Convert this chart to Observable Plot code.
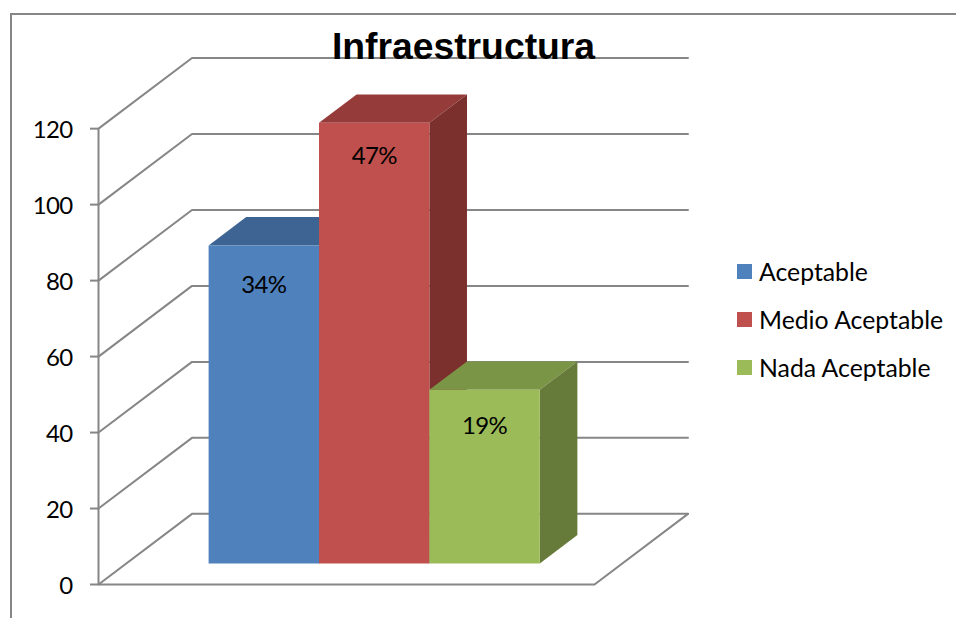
<!DOCTYPE html>
<html><head><meta charset="utf-8">
<script src="https://cdn.jsdelivr.net/npm/d3@7"></script>
<script src="https://cdn.jsdelivr.net/npm/@observablehq/plot@0.6"></script>
<style>
html,body{margin:0;padding:0;background:#fff;overflow:hidden}
#wrap{position:relative;width:956px;height:618px;overflow:hidden}
#frame{position:absolute;left:10px;top:13px;width:960px;height:640px;border:2px solid #868686;box-sizing:border-box}
#title{position:absolute;left:263.5px;width:400px;top:22px;text-align:center;font:bold 37.3px "Liberation Sans",Arial,sans-serif;color:#000;line-height:48px}
.lg{position:absolute;left:737px;font:24.8px Lato,sans-serif;color:#000;line-height:26px;height:26px;white-space:nowrap}
.lg i{position:absolute;left:0;top:7px;width:15px;height:15px}
.lg span{position:absolute;left:22px;top:1.5px}
svg{position:absolute;left:0;top:0}
svg text{letter-spacing:-0.7px}
</style></head><body>
<div id="wrap"><div id="frame"></div><div id="chart"></div><div id="title">Infraestructura</div><div id="legend"></div></div>
<script>
const categories = ["Aceptable","Medio Aceptable","Nada Aceptable"];
const values = [83.7, 116, 45.7];
const labels = ["34%","47%","19%"];
const frontColors = ["#4F81BD","#C0504D","#9BBB59"];
const topColors = ["#3E6494","#953C3A","#7B9547"];
const sideColors = ["#335479","#7B302E","#667A39"];
const yTicks = [0,20,40,60,80,100,120];
const labelDrops = [40,34,36];

// oblique projection expressed in data units
const depthX = 93.5/110.4, depthY = 18.6;
const floorWidth = 4.493, slotStart = 0.745;
const barFront = 0.298, barBack = 0.70;
const px = (s,d) => s + d*depthX;
const py = (v,d) => v + d*depthY;

const grid = [];
for (const t of yTicks) {
  grid.push({k:t,x:px(0,0),y:py(t,0)},{k:t,x:px(0,1),y:py(t,1)},{k:t,x:px(floorWidth,1),y:py(t,1)});
}
const floor = [[0,0],[floorWidth,0],[floorWidth,1]].map(([s,d])=>({x:px(s,d),y:py(0,d)}));

const faces = [];
values.forEach((v,i)=>{
  const a = slotStart+i, b = a+1;
  const add=(id,c,pts)=>pts.forEach(([s,val,d])=>faces.push({id:i+id,c,x:px(s,d),y:py(val,d)}));
  add("top",topColors[i],[[a,v,barFront],[b,v,barFront],[b,v,barBack],[a,v,barBack]]);
  add("side",sideColors[i],[[b,0,barFront],[b,v,barFront],[b,v,barBack],[b,0,barBack]]);
  add("front",frontColors[i],[[a,0,barFront],[b,0,barFront],[b,v,barFront],[a,v,barFront]]);
});
const textRows = values.map((v,i)=>({x:px(slotStart+i+0.5,barFront),y:py(v,barFront),t:labels[i],dy:labelDrops[i]}));

const plot = Plot.plot({
  width:956,height:618,marginLeft:98,marginRight:268.5,marginTop:57.5,marginBottom:34,
  style:{background:"transparent",overflow:"visible"},
  x:{domain:[0,floorWidth+depthX],axis:null},
  y:{domain:[0,120+depthY],axis:null},
  color:{type:"identity"},
  marks:[
    Plot.line(grid,{x:"x",y:"y",z:"k",stroke:"#868686",strokeWidth:2}),
    Plot.line(floor,{x:"x",y:"y",stroke:"#868686",strokeWidth:2}),
    Plot.ruleX([0],{y1:0,y2:120,stroke:"#868686",strokeWidth:2}),
    Plot.axisY({ticks:yTicks,tickSize:8,text:null,stroke:"#868686",strokeWidth:2,label:null}),
    Plot.axisY({ticks:yTicks,tickSize:0,tickPadding:26,dy:1.5,fontSize:24,fontFamily:"Lato",fill:"#000",label:null,tickFormat:d=>String(d)}),
    Plot.line(faces,{x:"x",y:"y",z:"id",fill:"c",stroke:"none"}),
    ...textRows.map(r=>Plot.text([r],{x:"x",y:"y",text:"t",dy:r.dy,fontSize:24,fontFamily:"Lato",fill:"#000"}))
  ]
});
document.getElementById("chart").appendChild(plot);

const lg = document.getElementById("legend");
const tops = [257,305,353];
categories.forEach((c,i)=>{
  const d=document.createElement("div");d.className="lg";d.style.top=tops[i]+"px";
  d.innerHTML=`<i style="background:${frontColors[i]}"></i><span>${c}</span>`;
  lg.appendChild(d);
});
</script>
</body></html>
